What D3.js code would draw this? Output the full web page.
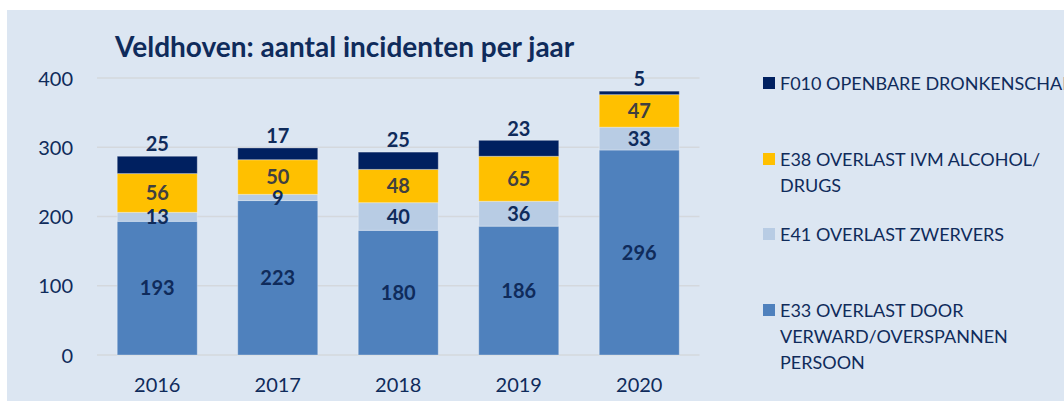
<!DOCTYPE html>
<html><head><meta charset="utf-8">
<script src="https://cdn.jsdelivr.net/npm/d3@7"></script>
<style>html,body{margin:0;padding:0;background:#fff;overflow:hidden}</style>
</head><body><svg id="c" width="1064" height="401"></svg>
<script>
const years = ["2016","2017","2018","2019","2020"];
const e33 = [193,223,180,186,296];
const e41 = [13,9,40,36,33];
const e38 = [56,50,48,65,47];
const f010 = [25,17,25,23,5];
const yTicks = [0,100,200,300,400];
const seriesKeys = ["E33","E41","E38","F010"];
const seriesNames = {
  F010:["F010 OPENBARE DRONKENSCHAP"],
  E38:["E38 OVERLAST IVM ALCOHOL/","DRUGS"],
  E41:["E41 OVERLAST ZWERVERS"],
  E33:["E33 OVERLAST DOOR","VERWARD/OVERSPANNEN","PERSOON"]
};
const colors = {E33:"#4f81bd",E41:"#b8cce4",E38:"#ffc000",F010:"#002060"};
const labelColors = {E33:"#0f2b5b",E41:"#0f2b5b",E38:"#404040",F010:"#0f2b5b"};
const navy = "#0f2b5b";
const font = "Lato, 'Open Sans', sans-serif";

const rows = years.map((y,i)=>({year:y,E33:e33[i],E41:e41[i],E38:e38[i],F010:f010[i]}));
const stacked = d3.stack().keys(seriesKeys)(rows);

const svg = d3.select("#c");
svg.append("rect").attr("x",7).attr("y",10).attr("width",1064).attr("height",401).attr("fill","#dce6f2");

const x = d3.scaleBand().domain(years).range([97,699.5]).paddingInner(0.336).paddingOuter(0.168);
const y = d3.scaleLinear().domain([0,400]).range([355,78]);

// grid
svg.append("g").selectAll("line").data(yTicks).join("line")
  .attr("x1",97).attr("x2",699.5).attr("y1",d=>y(d)).attr("y2",d=>y(d))
  .attr("stroke","#d4d8dd").attr("stroke-width",1.5);

// y axis labels
const yAxis = d3.axisLeft(y).tickValues(yTicks).tickSize(0).tickPadding(0);
const yg = svg.append("g").attr("transform","translate(73,0)").call(yAxis);
yg.select(".domain").remove();
yg.selectAll("text").attr("font-family",font).attr("font-size",20).attr("fill",navy).attr("dy","0.36em");

// x axis labels
const xAxis = d3.axisBottom(x).tickSize(0).tickPadding(0);
const xg = svg.append("g").attr("transform","translate(0,378)").call(xAxis);
xg.select(".domain").remove();
xg.selectAll("text").attr("font-family",font).attr("font-size",20).attr("fill",navy).attr("dy","0.71em");

// bars
const sg = svg.append("g").selectAll("g").data(stacked).join("g").attr("fill",d=>colors[d.key]);
sg.selectAll("rect").data(d=>d.map(v=>({v,key:d.key}))).join("rect")
  .attr("x",d=>x(d.v.data.year)).attr("width",x.bandwidth())
  .attr("y",d=>y(d.v[1])).attr("height",d=>y(d.v[0])-y(d.v[1]))
  .attr("stroke","rgba(255,255,255,0.3)").attr("stroke-width",1);

// labels
stacked.forEach(s=>{
  svg.append("g").selectAll("text").data(s).join("text")
    .attr("x",d=>x(d.data.year)+x.bandwidth()/2)
    .attr("y",d=> s.key==="F010" ? y(d[1])-12 : (y(d[0])+y(d[1]))/2)
    .attr("dy","0.36em").attr("text-anchor","middle")
    .attr("font-family",font).attr("font-weight","bold").attr("font-size",20)
    .attr("fill",labelColors[s.key])
    .text(d=>d[1]-d[0]);
});

// title
svg.append("text").attr("x",115).attr("y",57).attr("font-family",font).attr("font-weight","bold")
  .attr("font-size",28).attr("fill",navy).text("Veldhoven: aantal incidenten per jaar");

// legend
const legendOrder = ["F010","E38","E41","E33"];
const legendY = {F010:90,E38:166,E41:241,E33:317};
legendOrder.forEach(k=>{
  const g = svg.append("g");
  g.append("rect").attr("x",763).attr("y",legendY[k]-13).attr("width",12).attr("height",12).attr("fill",colors[k]);
  seriesNames[k].forEach((line,i)=>{
    g.append("text").attr("x",780).attr("y",legendY[k]+i*26).attr("font-family",font)
      .attr("font-size",18).attr("fill",navy).text(line);
  });
});
</script></body></html>
